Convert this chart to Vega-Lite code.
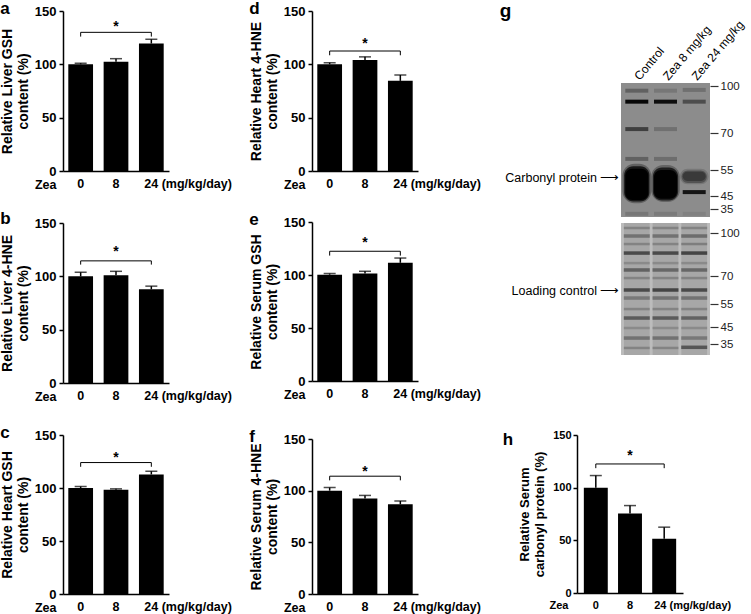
{
"$schema": "https://vega.github.io/schema/vega-lite/v6.json",
"background": "white",
"padding": {"left": 0, "top": 0, "right": 0, "bottom": 0},
"config": {
  "font": "Liberation Sans",
  "view": {"stroke": null},
  "axis": {"domainColor": "#000", "domainWidth": 1.5, "tickColor": "#000", "tickWidth": 1.5, "labelColor": "#000", "titleColor": "#000", "labelFontWeight": "bold", "titleFontWeight": "bold", "grid": false},
  "title": {"color": "#000"}
},
"bounds": "flush",
"spacing": 514,
"hconcat": [
 {"bounds": "flush", "spacing": 249, "hconcat": [
  {"bounds": "flush", "spacing": 52, "vconcat": [
   {"width": 106, "height": 160,
    "title": {"text": "a", "anchor": "start", "frame": "bounds", "fontSize": 17, "fontWeight": "bold", "baseline": "alphabetic", "offset": -26, "dx": 0},
    "layer": [
     {"data": {"values": [{"dose": "0", "mean": 100, "hi": 101}, {"dose": "8", "mean": 102.5, "hi": 105.3}, {"dose": "24", "mean": 119.5, "hi": 123.5}]},
      "layer": [
       {"mark": {"type": "bar", "color": "#000"},
        "encoding": {
         "x": {"field": "dose", "type": "nominal", "scale": {"domain": ["0", "8", "24"], "paddingInner": 0.3, "paddingOuter": 0.15},
               "axis": {"title": "Zea", "titleX": -7, "titleY": 7, "titleAlign": "right", "titleBaseline": "top", "titleAngle": 0, "titleFontSize": 12.5, "ticks": false, "labelAngle": 0, "labelPadding": 6, "labelFontSize": 12.5, "labelOverlap": false, "labelExpr": "datum.value == '24' ? '24 (mg/kg/day)' : datum.value", "labelAlign": {"condition": {"test": "datum.value == '24'", "value": "left"}, "value": "center"}, "labelOffset": {"condition": {"test": "datum.value == '24'", "value": -7}, "value": 0}}},
         "y": {"field": "mean", "type": "quantitative", "scale": {"domain": [0, 150], "nice": false},
               "axis": {"title": ["Relative Liver GSH", "content (%)"], "values": [0, 50, 100, 150], "tickSize": 4, "labelPadding": 3, "labelFontSize": 13, "titleFontSize": 14, "titleLineHeight": 16, "titlePadding": 4}}}},
       {"mark": {"type": "rule", "color": "#000", "strokeWidth": 1.5},
        "encoding": {"x": {"field": "dose", "type": "nominal"}, "y": {"field": "mean", "type": "quantitative"}, "y2": {"field": "hi"}}},
       {"mark": {"type": "tick", "color": "#000", "thickness": 1.5, "size": 12},
        "encoding": {"x": {"field": "dose", "type": "nominal"}, "y": {"field": "hi", "type": "quantitative"}}}
      ]},
     {"data": {"values": [{"from": "0", "mid": "8", "to": "24", "bar": 130, "foot": 126, "star": 139}]},
      "layer": [
       {"mark": {"type": "rule", "color": "#000", "strokeWidth": 1}, "encoding": {"x": {"field": "from", "type": "nominal"}, "x2": {"field": "to"}, "y": {"field": "bar", "type": "quantitative"}}},
       {"mark": {"type": "rule", "color": "#000", "strokeWidth": 1}, "encoding": {"x": {"field": "from", "type": "nominal"}, "y": {"field": "bar", "type": "quantitative"}, "y2": {"field": "foot"}}},
       {"mark": {"type": "rule", "color": "#000", "strokeWidth": 1}, "encoding": {"x": {"field": "to", "type": "nominal"}, "y": {"field": "bar", "type": "quantitative"}, "y2": {"field": "foot"}}},
       {"mark": {"type": "text", "fontSize": 14, "fontWeight": "bold", "baseline": "alphabetic", "dy": 8}, "encoding": {"x": {"field": "mid", "type": "nominal"}, "y": {"field": "star", "type": "quantitative"}, "text": {"value": "*"}}}
      ]}
    ]},
   {"width": 106, "height": 160,
    "title": {"text": "b", "anchor": "start", "frame": "bounds", "fontSize": 17, "fontWeight": "bold", "baseline": "alphabetic", "offset": -24, "dx": 0},
    "layer": [
     {"data": {"values": [{"dose": "0", "mean": 100, "hi": 103.8}, {"dose": "8", "mean": 101, "hi": 104.7}, {"dose": "24", "mean": 87.8, "hi": 90.8}]},
      "layer": [
       {"mark": {"type": "bar", "color": "#000"},
        "encoding": {
         "x": {"field": "dose", "type": "nominal", "scale": {"domain": ["0", "8", "24"], "paddingInner": 0.3, "paddingOuter": 0.15},
               "axis": {"title": "Zea", "titleX": -7, "titleY": 7, "titleAlign": "right", "titleBaseline": "top", "titleAngle": 0, "titleFontSize": 12.5, "ticks": false, "labelAngle": 0, "labelPadding": 6, "labelFontSize": 12.5, "labelOverlap": false, "labelExpr": "datum.value == '24' ? '24 (mg/kg/day)' : datum.value", "labelAlign": {"condition": {"test": "datum.value == '24'", "value": "left"}, "value": "center"}, "labelOffset": {"condition": {"test": "datum.value == '24'", "value": -7}, "value": 0}}},
         "y": {"field": "mean", "type": "quantitative", "scale": {"domain": [0, 150], "nice": false},
               "axis": {"title": ["Relative Liver 4-HNE", "content (%)"], "values": [0, 50, 100, 150], "tickSize": 4, "labelPadding": 3, "labelFontSize": 13, "titleFontSize": 14, "titleLineHeight": 16, "titlePadding": 4}}}},
       {"mark": {"type": "rule", "color": "#000", "strokeWidth": 1.5},
        "encoding": {"x": {"field": "dose", "type": "nominal"}, "y": {"field": "mean", "type": "quantitative"}, "y2": {"field": "hi"}}},
       {"mark": {"type": "tick", "color": "#000", "thickness": 1.5, "size": 12},
        "encoding": {"x": {"field": "dose", "type": "nominal"}, "y": {"field": "hi", "type": "quantitative"}}}
      ]},
     {"data": {"values": [{"from": "0", "mid": "8", "to": "24", "bar": 114.5, "foot": 111, "star": 126.5}]},
      "layer": [
       {"mark": {"type": "rule", "color": "#000", "strokeWidth": 1}, "encoding": {"x": {"field": "from", "type": "nominal"}, "x2": {"field": "to"}, "y": {"field": "bar", "type": "quantitative"}}},
       {"mark": {"type": "rule", "color": "#000", "strokeWidth": 1}, "encoding": {"x": {"field": "from", "type": "nominal"}, "y": {"field": "bar", "type": "quantitative"}, "y2": {"field": "foot"}}},
       {"mark": {"type": "rule", "color": "#000", "strokeWidth": 1}, "encoding": {"x": {"field": "to", "type": "nominal"}, "y": {"field": "bar", "type": "quantitative"}, "y2": {"field": "foot"}}},
       {"mark": {"type": "text", "fontSize": 14, "fontWeight": "bold", "baseline": "alphabetic", "dy": 8}, "encoding": {"x": {"field": "mid", "type": "nominal"}, "y": {"field": "star", "type": "quantitative"}, "text": {"value": "*"}}}
      ]}
    ]},
   {"width": 106, "height": 159,
    "title": {"text": "c", "anchor": "start", "frame": "bounds", "fontSize": 17, "fontWeight": "bold", "baseline": "alphabetic", "offset": -26, "dx": 0},
    "layer": [
     {"data": {"values": [{"dose": "0", "mean": 100, "hi": 101.4}, {"dose": "8", "mean": 98.3, "hi": 99.2}, {"dose": "24", "mean": 112.8, "hi": 115.8}]},
      "layer": [
       {"mark": {"type": "bar", "color": "#000"},
        "encoding": {
         "x": {"field": "dose", "type": "nominal", "scale": {"domain": ["0", "8", "24"], "paddingInner": 0.3, "paddingOuter": 0.15},
               "axis": {"title": "Zea", "titleX": -7, "titleY": 7, "titleAlign": "right", "titleBaseline": "top", "titleAngle": 0, "titleFontSize": 12.5, "ticks": false, "labelAngle": 0, "labelPadding": 6, "labelFontSize": 12.5, "labelOverlap": false, "labelExpr": "datum.value == '24' ? '24 (mg/kg/day)' : datum.value", "labelAlign": {"condition": {"test": "datum.value == '24'", "value": "left"}, "value": "center"}, "labelOffset": {"condition": {"test": "datum.value == '24'", "value": -7}, "value": 0}}},
         "y": {"field": "mean", "type": "quantitative", "scale": {"domain": [0, 150], "nice": false},
               "axis": {"title": ["Relative Heart GSH", "content (%)"], "values": [0, 50, 100, 150], "tickSize": 4, "labelPadding": 3, "labelFontSize": 13, "titleFontSize": 14, "titleLineHeight": 16, "titlePadding": 4}}}},
       {"mark": {"type": "rule", "color": "#000", "strokeWidth": 1.5},
        "encoding": {"x": {"field": "dose", "type": "nominal"}, "y": {"field": "mean", "type": "quantitative"}, "y2": {"field": "hi"}}},
       {"mark": {"type": "tick", "color": "#000", "thickness": 1.5, "size": 12},
        "encoding": {"x": {"field": "dose", "type": "nominal"}, "y": {"field": "hi", "type": "quantitative"}}}
      ]},
     {"data": {"values": [{"from": "0", "mid": "8", "to": "24", "bar": 124, "foot": 120, "star": 132}]},
      "layer": [
       {"mark": {"type": "rule", "color": "#000", "strokeWidth": 1}, "encoding": {"x": {"field": "from", "type": "nominal"}, "x2": {"field": "to"}, "y": {"field": "bar", "type": "quantitative"}}},
       {"mark": {"type": "rule", "color": "#000", "strokeWidth": 1}, "encoding": {"x": {"field": "from", "type": "nominal"}, "y": {"field": "bar", "type": "quantitative"}, "y2": {"field": "foot"}}},
       {"mark": {"type": "rule", "color": "#000", "strokeWidth": 1}, "encoding": {"x": {"field": "to", "type": "nominal"}, "y": {"field": "bar", "type": "quantitative"}, "y2": {"field": "foot"}}},
       {"mark": {"type": "text", "fontSize": 14, "fontWeight": "bold", "baseline": "alphabetic", "dy": 8}, "encoding": {"x": {"field": "mid", "type": "nominal"}, "y": {"field": "star", "type": "quantitative"}, "text": {"value": "*"}}}
      ]}
    ]}
  ]},
  {"bounds": "flush", "spacing": 428, "vconcat": [
   {"bounds": "flush", "spacing": 51, "vconcat": [
    {"width": 106, "height": 160,
     "title": {"text": "d", "anchor": "start", "frame": "bounds", "fontSize": 17, "fontWeight": "bold", "baseline": "alphabetic", "offset": -26, "dx": 0},
     "layer": [
      {"data": {"values": [{"dose": "0", "mean": 100, "hi": 101.6}, {"dose": "8", "mean": 104, "hi": 107}, {"dose": "24", "mean": 84.5, "hi": 90}]},
       "layer": [
        {"mark": {"type": "bar", "color": "#000"},
         "encoding": {
          "x": {"field": "dose", "type": "nominal", "scale": {"domain": ["0", "8", "24"], "paddingInner": 0.3, "paddingOuter": 0.15},
                "axis": {"title": "Zea", "titleX": -7, "titleY": 7, "titleAlign": "right", "titleBaseline": "top", "titleAngle": 0, "titleFontSize": 12.5, "ticks": false, "labelAngle": 0, "labelPadding": 6, "labelFontSize": 12.5, "labelOverlap": false, "labelExpr": "datum.value == '24' ? '24 (mg/kg/day)' : datum.value", "labelAlign": {"condition": {"test": "datum.value == '24'", "value": "left"}, "value": "center"}, "labelOffset": {"condition": {"test": "datum.value == '24'", "value": -7}, "value": 0}}},
          "y": {"field": "mean", "type": "quantitative", "scale": {"domain": [0, 150], "nice": false},
                "axis": {"title": ["Relative Heart 4-HNE", "content (%)"], "values": [0, 50, 100, 150], "tickSize": 4, "labelPadding": 3, "labelFontSize": 13, "titleFontSize": 14, "titleLineHeight": 16, "titlePadding": 4}}}},
        {"mark": {"type": "rule", "color": "#000", "strokeWidth": 1.5},
         "encoding": {"x": {"field": "dose", "type": "nominal"}, "y": {"field": "mean", "type": "quantitative"}, "y2": {"field": "hi"}}},
        {"mark": {"type": "tick", "color": "#000", "thickness": 1.5, "size": 12},
         "encoding": {"x": {"field": "dose", "type": "nominal"}, "y": {"field": "hi", "type": "quantitative"}}}
       ]},
      {"data": {"values": [{"from": "0", "mid": "8", "to": "24", "bar": 112.5, "foot": 108.5, "star": 122.5}]},
       "layer": [
        {"mark": {"type": "rule", "color": "#000", "strokeWidth": 1}, "encoding": {"x": {"field": "from", "type": "nominal"}, "x2": {"field": "to"}, "y": {"field": "bar", "type": "quantitative"}}},
        {"mark": {"type": "rule", "color": "#000", "strokeWidth": 1}, "encoding": {"x": {"field": "from", "type": "nominal"}, "y": {"field": "bar", "type": "quantitative"}, "y2": {"field": "foot"}}},
        {"mark": {"type": "rule", "color": "#000", "strokeWidth": 1}, "encoding": {"x": {"field": "to", "type": "nominal"}, "y": {"field": "bar", "type": "quantitative"}, "y2": {"field": "foot"}}},
        {"mark": {"type": "text", "fontSize": 14, "fontWeight": "bold", "baseline": "alphabetic", "dy": 8}, "encoding": {"x": {"field": "mid", "type": "nominal"}, "y": {"field": "star", "type": "quantitative"}, "text": {"value": "*"}}}
       ]}
     ]},
    {"width": 106, "height": 159,
     "title": {"text": "e", "anchor": "start", "frame": "bounds", "fontSize": 17, "fontWeight": "bold", "baseline": "alphabetic", "offset": -26, "dx": 0},
     "layer": [
      {"data": {"values": [{"dose": "0", "mean": 100.3, "hi": 101.3}, {"dose": "8", "mean": 101.3, "hi": 103.5}, {"dose": "24", "mean": 111.5, "hi": 116}]},
       "layer": [
        {"mark": {"type": "bar", "color": "#000"},
         "encoding": {
          "x": {"field": "dose", "type": "nominal", "scale": {"domain": ["0", "8", "24"], "paddingInner": 0.3, "paddingOuter": 0.15},
                "axis": {"title": "Zea", "titleX": -7, "titleY": 7, "titleAlign": "right", "titleBaseline": "top", "titleAngle": 0, "titleFontSize": 12.5, "ticks": false, "labelAngle": 0, "labelPadding": 6, "labelFontSize": 12.5, "labelOverlap": false, "labelExpr": "datum.value == '24' ? '24 (mg/kg/day)' : datum.value", "labelAlign": {"condition": {"test": "datum.value == '24'", "value": "left"}, "value": "center"}, "labelOffset": {"condition": {"test": "datum.value == '24'", "value": -7}, "value": 0}}},
          "y": {"field": "mean", "type": "quantitative", "scale": {"domain": [0, 150], "nice": false},
                "axis": {"title": ["Relative Serum GSH", "content (%)"], "values": [0, 50, 100, 150], "tickSize": 4, "labelPadding": 3, "labelFontSize": 13, "titleFontSize": 14, "titleLineHeight": 16, "titlePadding": 4}}}},
        {"mark": {"type": "rule", "color": "#000", "strokeWidth": 1.5},
         "encoding": {"x": {"field": "dose", "type": "nominal"}, "y": {"field": "mean", "type": "quantitative"}, "y2": {"field": "hi"}}},
        {"mark": {"type": "tick", "color": "#000", "thickness": 1.5, "size": 12},
         "encoding": {"x": {"field": "dose", "type": "nominal"}, "y": {"field": "hi", "type": "quantitative"}}}
       ]},
      {"data": {"values": [{"from": "0", "mid": "8", "to": "24", "bar": 122.4, "foot": 118.3, "star": 134}]},
       "layer": [
        {"mark": {"type": "rule", "color": "#000", "strokeWidth": 1}, "encoding": {"x": {"field": "from", "type": "nominal"}, "x2": {"field": "to"}, "y": {"field": "bar", "type": "quantitative"}}},
        {"mark": {"type": "rule", "color": "#000", "strokeWidth": 1}, "encoding": {"x": {"field": "from", "type": "nominal"}, "y": {"field": "bar", "type": "quantitative"}, "y2": {"field": "foot"}}},
        {"mark": {"type": "rule", "color": "#000", "strokeWidth": 1}, "encoding": {"x": {"field": "to", "type": "nominal"}, "y": {"field": "bar", "type": "quantitative"}, "y2": {"field": "foot"}}},
        {"mark": {"type": "text", "fontSize": 14, "fontWeight": "bold", "baseline": "alphabetic", "dy": 8}, "encoding": {"x": {"field": "mid", "type": "nominal"}, "y": {"field": "star", "type": "quantitative"}, "text": {"value": "*"}}}
       ]}
     ]}
   ]},
   {"width": 106, "height": 155,
    "title": {"text": "f", "anchor": "start", "frame": "bounds", "fontSize": 17, "fontWeight": "bold", "baseline": "alphabetic", "offset": -26, "dx": 0},
    "layer": [
     {"data": {"values": [{"dose": "0", "mean": 100, "hi": 103}, {"dose": "8", "mean": 92.5, "hi": 95.4}, {"dose": "24", "mean": 86.8, "hi": 90}]},
      "layer": [
       {"mark": {"type": "bar", "color": "#000"},
        "encoding": {
         "x": {"field": "dose", "type": "nominal", "scale": {"domain": ["0", "8", "24"], "paddingInner": 0.3, "paddingOuter": 0.15},
               "axis": {"title": "Zea", "titleX": -7, "titleY": 7, "titleAlign": "right", "titleBaseline": "top", "titleAngle": 0, "titleFontSize": 12.5, "ticks": false, "labelAngle": 0, "labelPadding": 6, "labelFontSize": 12.5, "labelOverlap": false, "labelExpr": "datum.value == '24' ? '24 (mg/kg/day)' : datum.value", "labelAlign": {"condition": {"test": "datum.value == '24'", "value": "left"}, "value": "center"}, "labelOffset": {"condition": {"test": "datum.value == '24'", "value": -7}, "value": 0}}},
         "y": {"field": "mean", "type": "quantitative", "scale": {"domain": [0, 150], "nice": false},
               "axis": {"title": ["Relative Serum 4-HNE", "content (%)"], "values": [0, 50, 100, 150], "tickSize": 4, "labelPadding": 3, "labelFontSize": 13, "titleFontSize": 14, "titleLineHeight": 16, "titlePadding": 4}}}},
       {"mark": {"type": "rule", "color": "#000", "strokeWidth": 1.5},
        "encoding": {"x": {"field": "dose", "type": "nominal"}, "y": {"field": "mean", "type": "quantitative"}, "y2": {"field": "hi"}}},
       {"mark": {"type": "tick", "color": "#000", "thickness": 1.5, "size": 12},
        "encoding": {"x": {"field": "dose", "type": "nominal"}, "y": {"field": "hi", "type": "quantitative"}}}
      ]},
     {"data": {"values": [{"from": "0", "mid": "8", "to": "24", "bar": 114, "foot": 110, "star": 122}]},
      "layer": [
       {"mark": {"type": "rule", "color": "#000", "strokeWidth": 1}, "encoding": {"x": {"field": "from", "type": "nominal"}, "x2": {"field": "to"}, "y": {"field": "bar", "type": "quantitative"}}},
       {"mark": {"type": "rule", "color": "#000", "strokeWidth": 1}, "encoding": {"x": {"field": "from", "type": "nominal"}, "y": {"field": "bar", "type": "quantitative"}, "y2": {"field": "foot"}}},
       {"mark": {"type": "rule", "color": "#000", "strokeWidth": 1}, "encoding": {"x": {"field": "to", "type": "nominal"}, "y": {"field": "bar", "type": "quantitative"}, "y2": {"field": "foot"}}},
       {"mark": {"type": "text", "fontSize": 14, "fontWeight": "bold", "baseline": "alphabetic", "dy": 8}, "encoding": {"x": {"field": "mid", "type": "nominal"}, "y": {"field": "star", "type": "quantitative"}, "text": {"value": "*"}}}
      ]}
    ]}
  ]}
 ]},
 {"bounds": "flush", "spacing": 424, "vconcat": [
  {"bounds": "flush", "spacing": 71, "vconcat": [
   {"width": 1, "height": 1, "data": {"values": []}, "mark": {"type": "point", "opacity": 0}, "encoding": {}},
   {"bounds": "flush", "spacing": 43, "hconcat": [
    {"width": 1, "height": 1, "data": {"values": []}, "mark": {"type": "point", "opacity": 0}, "encoding": {}},
    {"bounds": "flush", "spacing": 6, "vconcat": [
     {"width": 89, "height": 134,
      "view": {"fill": "#8c8c8c"},
      "title": {"text": "g", "anchor": "start", "frame": "bounds", "fontSize": 19, "fontWeight": "bold", "baseline": "alphabetic", "offset": -18, "dx": -5},
      "resolve": {"scale": {"y": "independent"}, "axis": {"y": "independent"}},
      "layer": [
       {"data": {"values": [
         {"lane": "Control", "haloTop": 57.5, "haloBottom": 39.5, "halo": 0.3},
         {"lane": "Zea 8 mg/kg", "haloTop": 57, "haloBottom": 40.3, "halo": 0.28},
         {"lane": "Zea 24 mg/kg", "haloTop": 55.5, "haloBottom": 49.5, "halo": 0.15}]},
        "mark": {"type": "rect", "color": "#000", "cornerRadius": 12, "width": {"band": 1.25}},
        "encoding": {
         "x": {"field": "lane", "type": "nominal", "scale": {"domain": ["Control", "Zea 8 mg/kg", "Zea 24 mg/kg"], "paddingInner": 0.2, "paddingOuter": 0.15},
               "axis": {"orient": "top", "title": null, "domain": false, "ticks": false, "labelAngle": -50, "labelAlign": "left", "labelBaseline": "middle", "labelPadding": 5, "labelFontSize": 12, "labelFontWeight": "normal"}},
         "y": {"field": "haloTop", "type": "quantitative", "scale": {"domain": [110, 100, 70, 55, 45, 35, 30], "range": [0, 3, 50, 87, 113, 126, 134], "zero": false, "nice": false},
               "axis": {"orient": "left", "values": [52], "labelExpr": "'Carbonyl protein ⟶'", "title": null, "domain": false, "ticks": false, "labelPadding": 2, "labelFontSize": 12.5, "labelFontWeight": "normal"}},
         "y2": {"field": "haloBottom"},
         "opacity": {"field": "halo", "type": "quantitative", "scale": {"domain": [0, 1], "range": [0, 1]}, "legend": null}}},
       {"data": {"values": [
         {"lane": "Control", "midTop": 56.5, "midBottom": 40.8, "mid": 0.75},
         {"lane": "Zea 8 mg/kg", "midTop": 56, "midBottom": 41.6, "mid": 0.7},
         {"lane": "Zea 24 mg/kg", "midTop": 54.8, "midBottom": 50, "mid": 0.3}]},
        "mark": {"type": "rect", "color": "#000", "cornerRadius": 9, "width": {"band": 1.1}},
        "encoding": {
         "x": {"field": "lane", "type": "nominal"},
         "y": {"field": "midTop", "type": "quantitative", "scale": {"domain": [110, 100, 70, 55, 45, 35, 30], "range": [0, 3, 50, 87, 113, 126, 134], "zero": false, "nice": false}, "axis": null},
         "y2": {"field": "midBottom"},
         "opacity": {"field": "mid", "type": "quantitative", "legend": null}}},
       {"data": {"values": [
         {"lane": "Control", "top": 55.5, "bottom": 42, "core": 1},
         {"lane": "Zea 8 mg/kg", "top": 55, "bottom": 42.8, "core": 0.97},
         {"lane": "Zea 24 mg/kg", "top": 54.3, "bottom": 50.8, "core": 0.3}]},
        "mark": {"type": "rect", "color": "#000", "cornerRadius": 7},
        "encoding": {
         "x": {"field": "lane", "type": "nominal"},
         "y": {"field": "top", "type": "quantitative", "scale": {"domain": [110, 100, 70, 55, 45, 35, 30], "range": [0, 3, 50, 87, 113, 126, 134], "zero": false, "nice": false}, "axis": null},
         "y2": {"field": "bottom"},
         "opacity": {"field": "core", "type": "quantitative", "legend": null}}},
       {"data": {"values": [
         {"lane": "Control", "mw": 97, "density": 0.3}, {"lane": "Zea 8 mg/kg", "mw": 97, "density": 0.15}, {"lane": "Zea 24 mg/kg", "mw": 97.5, "density": 0.2},
         {"lane": "Control", "mw": 90, "density": 0.95}, {"lane": "Zea 8 mg/kg", "mw": 90, "density": 0.9}, {"lane": "Zea 24 mg/kg", "mw": 90, "density": 0.45},
         {"lane": "Control", "mw": 72.5, "density": 0.55}, {"lane": "Zea 8 mg/kg", "mw": 72.5, "density": 0.2},
         {"lane": "Control", "mw": 59.5, "density": 0.3}, {"lane": "Zea 8 mg/kg", "mw": 59.5, "density": 0.22},
         {"lane": "Zea 24 mg/kg", "mw": 46.5, "density": 0.85},
         {"lane": "Control", "mw": 32, "density": 0.15}, {"lane": "Zea 8 mg/kg", "mw": 32, "density": 0.12}, {"lane": "Zea 24 mg/kg", "mw": 32, "density": 0.08}]},
        "mark": {"type": "tick", "color": "#000", "thickness": 4, "size": 23},
        "encoding": {
         "x": {"field": "lane", "type": "nominal"},
         "y": {"field": "mw", "type": "quantitative", "scale": {"domain": [110, 100, 70, 55, 45, 35, 30], "range": [0, 3, 50, 87, 113, 126, 134], "zero": false, "nice": false},
               "axis": {"orient": "right", "values": [100, 70, 55, 45, 35], "title": null, "domain": false, "tickSize": 8, "tickWidth": 1.2, "tickColor": "#333", "labelPadding": 2, "labelFontSize": 11.5, "labelFontWeight": "normal", "labelOverlap": false, "labelColor": "#222"}},
         "opacity": {"field": "density", "type": "quantitative", "legend": null}}}
      ]},
     {"width": 89, "height": 132,
      "view": {"fill": "#bcbcbc"},
      "resolve": {"scale": {"y": "independent"}, "axis": {"y": "independent"}},
      "layer": [
       {"data": {"values": [{"lane": "Control"}, {"lane": "Zea 8 mg/kg"}, {"lane": "Zea 24 mg/kg"}]},
        "mark": {"type": "rect", "color": "#a7a7a7", "width": {"band": 1.12}},
        "encoding": {
         "x": {"field": "lane", "type": "nominal", "scale": {"domain": ["Control", "Zea 8 mg/kg", "Zea 24 mg/kg"], "paddingInner": 0.2, "paddingOuter": 0.15}, "axis": null},
         "y": {"datum": 105, "type": "quantitative", "scale": {"domain": [105, 100, 70, 55, 45, 35, 30], "range": [0, 10, 53, 81, 104, 121, 132], "zero": false, "nice": false}, "axis": null},
         "y2": {"datum": 30}}},
       {"data": {"values": [
         {"lane": "Control", "mw": 102.5, "density": 0.3}, {"lane": "Zea 8 mg/kg", "mw": 102.5, "density": 0.3}, {"lane": "Zea 24 mg/kg", "mw": 102.5, "density": 0.3},
         {"lane": "Control", "mw": 92.3, "density": 0.3}, {"lane": "Zea 8 mg/kg", "mw": 92.3, "density": 0.3}, {"lane": "Zea 24 mg/kg", "mw": 92.3, "density": 0.35},
         {"lane": "Control", "mw": 79, "density": 0.25}, {"lane": "Zea 8 mg/kg", "mw": 79, "density": 0.25}, {"lane": "Zea 24 mg/kg", "mw": 79, "density": 0.25},
         {"lane": "Control", "mw": 68.9, "density": 0.3}, {"lane": "Zea 8 mg/kg", "mw": 68.9, "density": 0.3}, {"lane": "Zea 24 mg/kg", "mw": 68.9, "density": 0.3},
         {"lane": "Control", "mw": 52.8, "density": 0.3}, {"lane": "Zea 8 mg/kg", "mw": 52.8, "density": 0.3}, {"lane": "Zea 24 mg/kg", "mw": 52.8, "density": 0.3},
         {"lane": "Control", "mw": 44.4, "density": 0.25}, {"lane": "Zea 8 mg/kg", "mw": 44.4, "density": 0.25}, {"lane": "Zea 24 mg/kg", "mw": 44.4, "density": 0.25},
         {"lane": "Control", "mw": 33.2, "density": 0.3}, {"lane": "Zea 8 mg/kg", "mw": 33.2, "density": 0.3}]},
        "mark": {"type": "tick", "color": "#333", "thickness": 2.5, "size": 26},
        "encoding": {
         "x": {"field": "lane", "type": "nominal"},
         "y": {"field": "mw", "type": "quantitative", "scale": {"domain": [105, 100, 70, 55, 45, 35, 30], "range": [0, 10, 53, 81, 104, 121, 132], "zero": false, "nice": false},
               "axis": {"orient": "left", "values": [62.5], "labelExpr": "'Loading control ⟶'", "title": null, "domain": false, "ticks": false, "labelPadding": 2, "labelFontSize": 12.5, "labelFontWeight": "normal"}},
         "opacity": {"field": "density", "type": "quantitative", "scale": {"domain": [0, 1], "range": [0, 1]}, "legend": null}}},
       {"data": {"values": [
         {"lane": "Control", "mw": 97.9, "density": 0.45}, {"lane": "Zea 8 mg/kg", "mw": 97.9, "density": 0.45}, {"lane": "Zea 24 mg/kg", "mw": 97.9, "density": 0.5},
         {"lane": "Control", "mw": 86, "density": 0.8}, {"lane": "Zea 8 mg/kg", "mw": 86, "density": 0.8}, {"lane": "Zea 24 mg/kg", "mw": 86, "density": 0.85},
         {"lane": "Control", "mw": 74.2, "density": 0.6}, {"lane": "Zea 8 mg/kg", "mw": 74.2, "density": 0.55}, {"lane": "Zea 24 mg/kg", "mw": 74.2, "density": 0.55},
         {"lane": "Control", "mw": 62.5, "density": 0.8}, {"lane": "Zea 8 mg/kg", "mw": 62.5, "density": 0.85}, {"lane": "Zea 24 mg/kg", "mw": 62.5, "density": 0.8},
         {"lane": "Control", "mw": 58.2, "density": 0.4}, {"lane": "Zea 8 mg/kg", "mw": 58.2, "density": 0.45}, {"lane": "Zea 24 mg/kg", "mw": 58.2, "density": 0.45},
         {"lane": "Control", "mw": 48.9, "density": 0.65}, {"lane": "Zea 8 mg/kg", "mw": 48.9, "density": 0.65}, {"lane": "Zea 24 mg/kg", "mw": 48.9, "density": 0.6},
         {"lane": "Control", "mw": 38.5, "density": 0.45}, {"lane": "Zea 8 mg/kg", "mw": 38.5, "density": 0.45}, {"lane": "Zea 24 mg/kg", "mw": 38.5, "density": 0.4},
         {"lane": "Zea 24 mg/kg", "mw": 33.5, "density": 0.7}]},
        "mark": {"type": "tick", "color": "#333", "thickness": 3.5, "size": 26},
        "encoding": {
         "x": {"field": "lane", "type": "nominal"},
         "y": {"field": "mw", "type": "quantitative", "scale": {"domain": [105, 100, 70, 55, 45, 35, 30], "range": [0, 10, 53, 81, 104, 121, 132], "zero": false, "nice": false},
               "axis": {"orient": "right", "values": [100, 70, 55, 45, 35], "title": null, "domain": false, "tickSize": 8, "tickWidth": 1.2, "tickColor": "#333", "labelPadding": 2, "labelFontSize": 11.5, "labelFontWeight": "normal", "labelOverlap": false, "labelColor": "#222"}},
         "opacity": {"field": "density", "type": "quantitative", "legend": null}}}
      ]}
    ]}
   ]}
  ]},
  {"width": 106, "height": 158,
   "title": {"text": "h", "anchor": "start", "frame": "bounds", "fontSize": 17, "fontWeight": "bold", "baseline": "alphabetic", "offset": -33, "dx": -16},
   "layer": [
    {"data": {"values": [{"dose": "0", "mean": 100, "hi": 111.5}, {"dose": "8", "mean": 75.5, "hi": 83}, {"dose": "24", "mean": 51.5, "hi": 62.5}]},
     "layer": [
      {"mark": {"type": "bar", "color": "#000"},
       "encoding": {
        "x": {"field": "dose", "type": "nominal", "scale": {"domain": ["0", "8", "24"], "paddingInner": 0.3, "paddingOuter": 0.2},
              "axis": {"title": "Zea", "titleX": -9, "titleY": 6, "titleAlign": "right", "titleBaseline": "top", "titleAngle": 0, "titleFontSize": 11, "ticks": false, "labelAngle": 0, "labelPadding": 6, "labelFontSize": 11, "labelOverlap": false, "labelExpr": "datum.value == '24' ? '24 (mg/kg/day)' : datum.value", "labelAlign": {"condition": {"test": "datum.value == '24'", "value": "left"}, "value": "center"}, "labelOffset": {"condition": {"test": "datum.value == '24'", "value": -10}, "value": 0}}},
        "y": {"field": "mean", "type": "quantitative", "scale": {"domain": [0, 150], "nice": false},
              "axis": {"title": ["Relative Serum", "carbonyl protein (%)"], "values": [0, 50, 100, 150], "tickSize": 4, "labelPadding": 2, "labelFontSize": 11, "titleFontSize": 13, "titleLineHeight": 15, "titlePadding": 6}}}},
      {"mark": {"type": "rule", "color": "#000", "strokeWidth": 1.5},
       "encoding": {"x": {"field": "dose", "type": "nominal"}, "y": {"field": "mean", "type": "quantitative"}, "y2": {"field": "hi"}}},
      {"mark": {"type": "tick", "color": "#000", "thickness": 1.5, "size": 12},
       "encoding": {"x": {"field": "dose", "type": "nominal"}, "y": {"field": "hi", "type": "quantitative"}}}
     ]},
    {"data": {"values": [{"from": "0", "mid": "8", "to": "24", "bar": 122.5, "foot": 118.5, "star": 133.6}]},
     "layer": [
      {"mark": {"type": "rule", "color": "#000", "strokeWidth": 1}, "encoding": {"x": {"field": "from", "type": "nominal"}, "x2": {"field": "to"}, "y": {"field": "bar", "type": "quantitative"}}},
      {"mark": {"type": "rule", "color": "#000", "strokeWidth": 1}, "encoding": {"x": {"field": "from", "type": "nominal"}, "y": {"field": "bar", "type": "quantitative"}, "y2": {"field": "foot"}}},
      {"mark": {"type": "rule", "color": "#000", "strokeWidth": 1}, "encoding": {"x": {"field": "to", "type": "nominal"}, "y": {"field": "bar", "type": "quantitative"}, "y2": {"field": "foot"}}},
      {"mark": {"type": "text", "fontSize": 14, "fontWeight": "bold", "baseline": "alphabetic", "dy": 8}, "encoding": {"x": {"field": "mid", "type": "nominal"}, "y": {"field": "star", "type": "quantitative"}, "text": {"value": "*"}}}
     ]}
   ]}
 ]}
]
}
